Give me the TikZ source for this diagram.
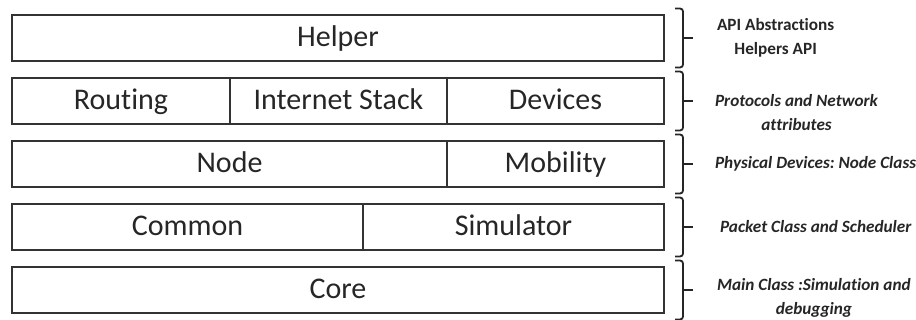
\documentclass[tikz,border=0pt]{standalone}
\usepackage{fontspec}
\setmainfont[Ligatures=NoCommon]{Carlito}
\frenchspacing
\usetikzlibrary{positioning}
\tikzset{
    layer/.style={draw=black!80, line width=1pt, inner sep=0pt, outer sep=0pt, minimum height=23pt, text height=11pt, text depth=2pt, font=\fontsize{15}{17}\selectfont, text=black!85}, % one block of a layer
    note/.style={anchor=west, align=center, font=\fontsize{8.6}{12}\selectfont\bfseries\itshape, text=black!85}, % text beside a brace
    bracket/.style={draw=black!85, line width=0.9pt, rounded corners=1.5pt}, % the braces on the right
    node distance=8.5pt, % gap between two layers
}
\begin{document}
\begin{tikzpicture}
    \useasboundingbox (0,0) rectangle (458pt,-160pt);
    \node[layer, minimum width=326pt, anchor=north west] (helper) at (6pt,-7.5pt) {Helper};
    \node[layer, minimum width=109pt, below=of helper.south west, anchor=north west] (routing) {Routing};
    \node[layer, minimum width=108.5pt, right=0pt of routing] (stack) {Internet Stack};
    \node[layer, minimum width=108.5pt, right=0pt of stack] (devices) {Devices};
    \node[layer, minimum width=217.5pt, below=of routing.south west, anchor=north west] (node) {Node};
    \node[layer, minimum width=108.5pt, right=0pt of node] (mobility) {Mobility};
    \node[layer, minimum width=175.5pt, below=of node.south west, anchor=north west] (common) {Common};
    \node[layer, minimum width=150.5pt, right=0pt of common] (simulator) {Simulator};
    \node[layer, minimum width=326pt, below=of common.south west, anchor=north west] (core) {Core};
    % braces
    \foreach \r in {helper, devices, mobility, simulator, core} {
        \draw[bracket] ([xshift=5.5pt, yshift=3.25pt]\r.north east) -| ([xshift=9.5pt]\r.east) |- ([xshift=5.5pt, yshift=-3.25pt]\r.south east);
        \draw[bracket] ([xshift=9.5pt]\r.east) -- ++(5pt,0);
    }
    \node[note, right=23pt of helper, font=\fontsize{8.6}{12}\selectfont\bfseries] (api) {API Abstractions\\Helpers API};
    \node[note, right=22pt of devices, yshift=-6pt] (proto) {Protocols and Network\\attributes};
    \node[note, right=22pt of mobility] (phys) {Physical Devices: Node Class};
    \node[note, right=24.5pt of simulator] (packet) {Packet Class and Scheduler};
    \node[note, right=23pt of core, yshift=-4pt] (mainc) {Main Class :Simulation and\\debugging};
\end{tikzpicture}
\end{document}
